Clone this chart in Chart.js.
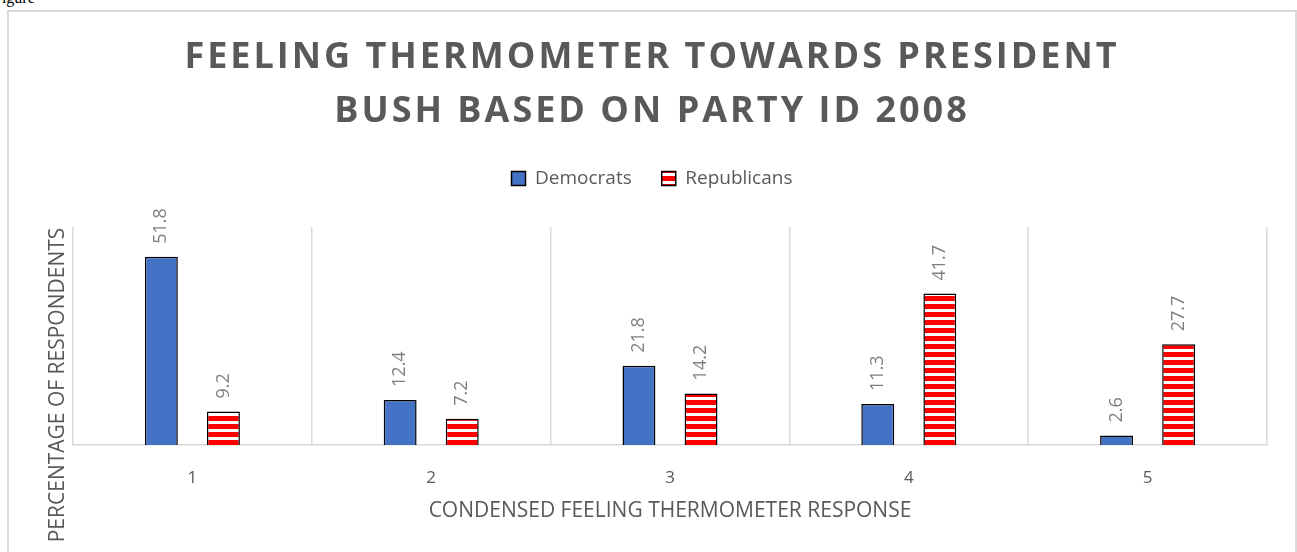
<!DOCTYPE html>
<html>
<head>
<meta charset="utf-8">
<script src="https://cdn.jsdelivr.net/npm/chart.js@4.4.1/dist/chart.umd.min.js"></script>
<style>
  html, body { margin: 0; padding: 0; background: #ffffff; overflow: hidden; }
  #wrap { position: relative; width: 1297px; height: 552px; }
  #frame { position: absolute; left: 7px; top: 10px; width: 1286px; height: 560px; border: 2px solid #d9d9d9; pointer-events: none; }
  #fig { position: absolute; left: -7px; top: -11px; font: 16px "Liberation Serif", serif; color: #000; }
  #c { position: absolute; left: 0; top: 0; }
</style>
</head>
<body>
<div id="wrap">
  <div id="fig">Figure</div>
  <div id="frame"></div>
  <canvas id="c" width="1297" height="552"></canvas>
</div>
<script>
const categories = ["1", "2", "3", "4", "5"];
const democrats = [51.8, 12.4, 21.8, 11.3, 2.6];
const republicans = [9.2, 7.2, 14.2, 41.7, 27.7];
const seriesNames = ["Democrats", "Republicans"];
const titleLines = ["FEELING THERMOMETER TOWARDS PRESIDENT", "BUSH BASED ON PARTY ID 2008"];
const xTitle = "CONDENSED FEELING THERMOMETER RESPONSE";
const yTitle = "PERCENTAGE OF RESPONDENTS";

function stripePattern() {
  const p = document.createElement('canvas');
  p.width = 8; p.height = 8;
  const g = p.getContext('2d');
  g.fillStyle = '#ffffff'; g.fillRect(0, 0, 8, 8);
  g.fillStyle = '#ff0000'; g.fillRect(0, 0, 8, 5);
  return document.getElementById('c').getContext('2d').createPattern(p, 'repeat');
}

// letter-spaced chart title (wraps Chart.js' own title block drawing)
const spacedTitle = {
  id: 'spacedTitle',
  beforeDraw(chart) {
    const tb = chart.titleBlock;
    if (tb && !tb._spaced) {
      const orig = tb.draw;
      tb.draw = function () {
        const ctx = this.ctx || chart.ctx;
        ctx.save();
        ctx.letterSpacing = '3px';
        orig.apply(this, arguments);
        ctx.restore();
      };
      tb._spaced = true;
    }
  }
};

const valueLabels = {
  id: 'valueLabels',
  afterDatasetsDraw(chart) {
    const ctx = chart.ctx;
    ctx.save();
    ctx.font = '18px "Open Sans"';
    ctx.fillStyle = '#7f7f7f';
    ctx.textAlign = 'left';
    ctx.textBaseline = 'middle';
    chart.data.datasets.forEach((ds, di) => {
      const meta = chart.getDatasetMeta(di);
      meta.data.forEach((bar, i) => {
        ctx.save();
        ctx.translate(bar.x, bar.y - 13);
        ctx.rotate(-Math.PI / 2);
        ctx.fillText(ds.data[i].toFixed(1), 0, 0);
        ctx.restore();
      });
    });
    ctx.restore();
  }
};

const yAxisTitle = {
  id: 'yAxisTitle',
  afterDraw(chart) {
    const ctx = chart.ctx;
    ctx.save();
    ctx.font = '21px "Open Sans"';
    ctx.fillStyle = '#595959';
    ctx.textAlign = 'center';
    ctx.textBaseline = 'middle';
    ctx.translate(chart.chartArea.left - 15, 385);
    ctx.rotate(-Math.PI / 2);
    ctx.fillText(yTitle, 0, 0);
    ctx.restore();
  }
};

new Chart(document.getElementById('c'), {
  type: 'bar',
  data: {
    labels: categories,
    datasets: [
      { label: seriesNames[0], data: democrats, backgroundColor: '#4472c4', borderColor: '#000000', borderWidth: 1.5 },
      { label: seriesNames[1], data: republicans, backgroundColor: stripePattern(), borderColor: '#000000', borderWidth: 1.5 }
    ]
  },
  options: {
    responsive: false,
    animation: false,
    devicePixelRatio: 1,
    layout: { padding: { left: 37, right: 30, top: 0, bottom: 0 } },
    datasets: { bar: { categoryPercentage: 0.52, barPercentage: 0.53 } },
    plugins: {
      tooltip: { enabled: false },
      title: {
        display: true,
        text: titleLines,
        color: '#595959',
        font: { family: '"Open Sans"', size: 36, weight: 'bold', lineHeight: '54px' },
        padding: { top: 31, bottom: 0 }
      },
      legend: {
        display: true,
        position: 'top',
        labels: {
          color: '#595959',
          font: { family: '"Open Sans"', size: 19 },
          boxWidth: 14,
          boxHeight: 14,
          padding: 30
        }
      }
    },
    scales: {
      x: {
        offset: true,
        grid: { display: true, offset: true, color: '#d9d9d9', lineWidth: 1.5, drawTicks: false },
        border: { display: true, color: '#d9d9d9', width: 1.5 },
        ticks: { color: '#595959', font: { family: '"Open Sans"', size: 17 }, padding: 23 },
        title: { display: true, text: xTitle, color: '#595959', font: { family: '"Open Sans"', size: 21 }, padding: { top: 10, bottom: 28 } },
        afterFit(s) { s.height = 107; }
      },
      xTop: {
        type: 'category',
        position: 'top',
        display: true,
        grid: { display: false },
        border: { display: false },
        ticks: { display: false },
        afterFit(s) { s.height = 29; }
      },
      y: {
        display: true,
        min: 0,
        max: 60,
        grid: { display: false },
        border: { display: false },
        ticks: { display: false },
        afterFit(s) { s.width = 36; }
      }
    }
  },
  plugins: [spacedTitle, valueLabels, yAxisTitle]
});
</script>
</body>
</html>
